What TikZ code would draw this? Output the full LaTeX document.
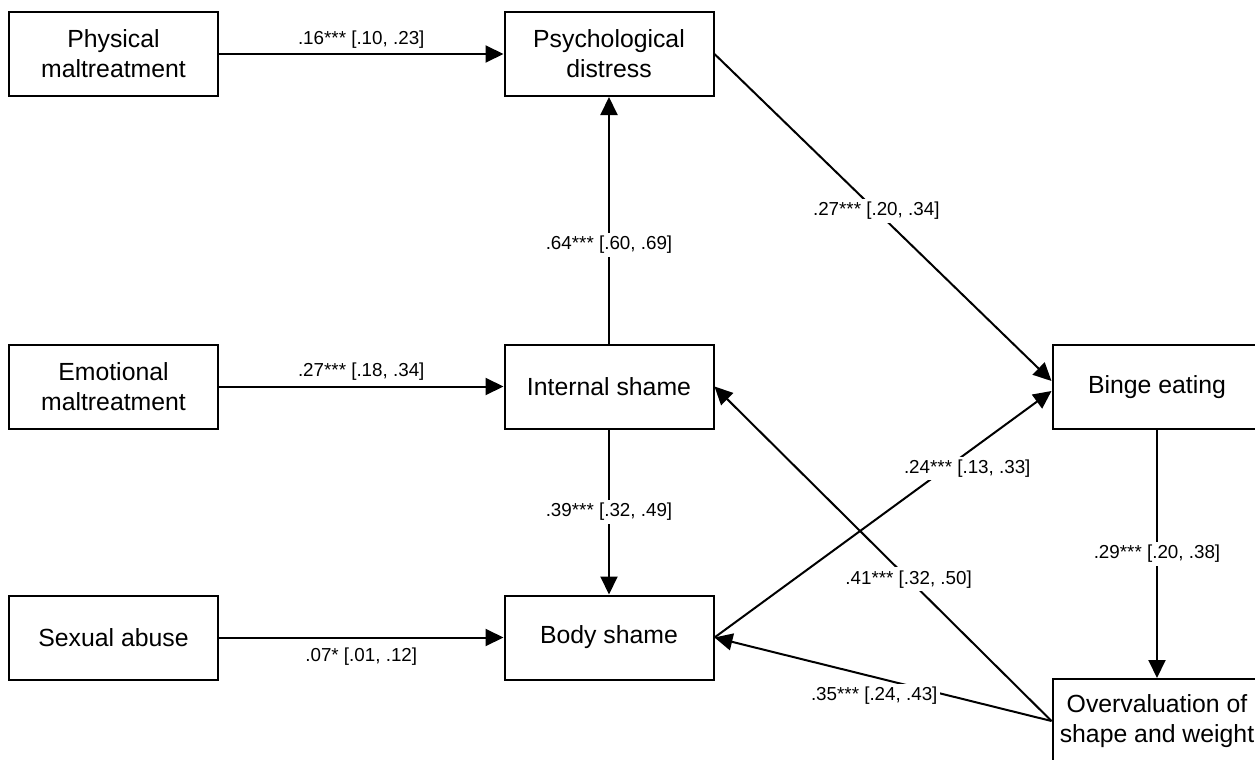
\documentclass[tikz,border=0pt]{standalone}
\usepackage{fontspec}
\setmainfont{Liberation Sans}
\usepackage{tikz}
\usetikzlibrary{arrows.meta}
\tikzset{box/.style={rectangle,draw,line width=1pt,minimum width=104.5pt,minimum height=42pt,align=center,font=\fontsize{12.4}{15}\selectfont}}
\tikzset{lab/.style={font=\fontsize{9.4}{11}\selectfont,inner sep=1.5pt}}

\begin{document}
\begin{tikzpicture}[x=0.5pt,y=-0.5pt,>={Triangle[length=9pt,width=8.5pt]},line width=1pt]
    \useasboundingbox (0,0) rectangle (1255,760);
    \node[box] (phy) at (113.5,54) {Physical\\maltreatment};
    \node[box] (psy) at (609,54) {Psychological\\distress};
    \node[box] (emo) at (113.5,386.5) {Emotional\\maltreatment};
    \node[box] (int) at (609,386.5) {Internal shame};
    \node[box] (sex) at (113.5,637.5) {Sexual abuse};
    \node[box] (bod) at (609,637.5) {Body shame};
    \node[box] (bin) at (1157,387) {Binge eating};
    \node[box] (ovr) at (1157,721) {Overvaluation of\\shape and weight};

    \draw [->] (phy) to []node[lab,above,yshift=1pt]{.16*** [.10, .23]} (psy);
    \draw [->] (emo) to []node[lab,above,yshift=1pt]{.27*** [.18, .34]} (int);
    \draw [->] (sex) to []node[lab,below,yshift=-3pt]{.07* [.01, .12]} (bod);
    \draw [->] (int) to []node[lab,fill=white,pos=0.4]{.64*** [.60, .69]} (psy);
    \draw [->] (int) to []node[lab,fill=white]{.39*** [.32, .49]} (bod);
    \draw [->] (psy.east) to []node[lab,fill=white,pos=0.48]{.27*** [.20, .34]} ([yshift=3pt]bin.west);
    \draw [->] (bod.east) to []node[lab,fill=white,pos=0.75,yshift=-8pt]{.24*** [.13, .33]} ([yshift=-2pt]bin.west);
    \draw [->] (bin) to []node[lab,fill=white]{.29*** [.20, .38]} (ovr);
    \draw [->] (ovr.west) to []node[lab,fill=white,pos=0.424]{.41*** [.32, .50]} (int.east);
    \draw [->] (ovr.west) to []node[lab,fill=white,pos=0.526,yshift=-9.5pt]{.35*** [.24, .43]} (bod.east);
\end{tikzpicture}
\end{document}
